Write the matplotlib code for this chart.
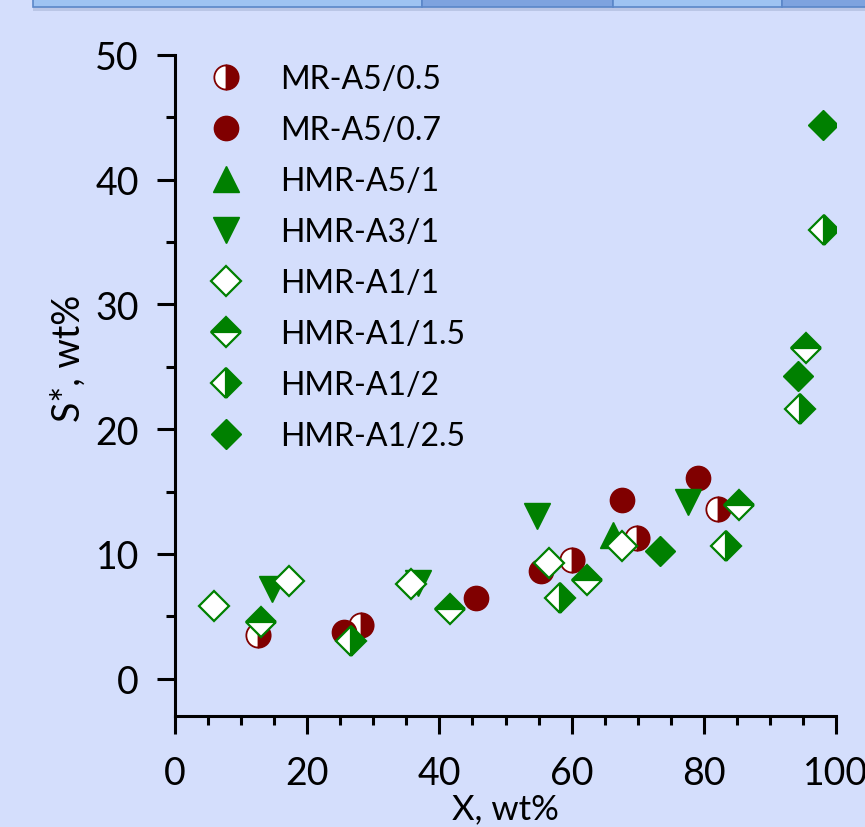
import matplotlib
matplotlib.use("Agg")
import matplotlib.pyplot as plt
from matplotlib.patches import Rectangle
from matplotlib.ticker import MultipleLocator

plt.rcParams['font.family'] = ['Lato', 'DejaVu Sans']

# ---- data ----
mr05_x = [12.6, 28.1, 60.0, 69.9, 82.2]
mr05_y = [3.5, 4.3, 9.5, 11.3, 13.6]
mr07_x = [25.6, 45.5, 55.4, 67.7, 79.1]
mr07_y = [3.7, 6.5, 8.6, 14.35, 16.1]
hmr_a5_1_x = [66.2]
hmr_a5_1_y = [11.55]
hmr_a3_1_x = [14.6, 36.8, 54.8, 77.6]
hmr_a3_1_y = [7.2, 7.7, 13.0, 14.15]
hmr_a1_1_x = [5.95, 17.3, 35.7, 56.6, 67.7]
hmr_a1_1_y = [5.85, 7.86, 7.55, 9.27, 10.6]
hmr_a1_15_x = [13.0, 41.6, 62.4, 85.4, 95.5]
hmr_a1_15_y = [4.5, 5.55, 7.9, 13.9, 26.5]
hmr_a1_2_x = [26.7, 58.2, 83.3, 94.6, 98.2]
hmr_a1_2_y = [3.0, 6.5, 10.6, 21.65, 36.0]
hmr_a1_25_x = [73.3, 94.2, 98.0]
hmr_a1_25_y = [10.2, 24.3, 44.4]

x_ticks = [0, 20, 40, 60, 80, 100]
y_ticks = [0, 10, 20, 30, 40, 50]

RED = '#800000'
GREEN = '#008000'
BG = '#D4DEFC'

W, H = 865, 828
fig = plt.figure(figsize=(W / 100, H / 100), dpi=100, facecolor=BG)

# top strip (table-like band)
cells = [(33, 422, '#9EC3F2'), (422, 613, '#7EA3DF'), (613, 782, '#9EC3F2'), (782, 870, '#7EA3DF')]
for x0, x1, c in cells:
    fig.patches.append(Rectangle((x0 / W, 1 - 12 / H), (x1 - x0) / W, 12 / H,
                                 transform=fig.transFigure, facecolor='#A9B6D8', edgecolor='none', alpha=0.6, zorder=0))
    fig.patches.append(Rectangle((x0 / W, 1 - 8 / H), (x1 - x0) / W, 12 / H,
                                 transform=fig.transFigure, facecolor=c, edgecolor='#5B87C9', linewidth=1.2, zorder=1))

ax = fig.add_axes([175 / W, 1 - 717 / H, (836 - 175) / W, (717 - 56) / H])
ax.set_facecolor(BG)

ms_c = 17.5
ms_d = 15
ms_t = 19
common = dict(linestyle='none')
ax.plot(mr05_x, mr05_y, marker='o', ms=ms_c, fillstyle='right', markerfacecolor=RED,
        markerfacecoloralt='white', markeredgecolor=RED, mew=1.3, label='MR-A5/0.5', **common)
ax.plot(mr07_x, mr07_y, marker='o', ms=ms_c, color=RED, mec=RED, mew=1.0, label='MR-A5/0.7', **common)
ax.plot(hmr_a5_1_x, hmr_a5_1_y, marker='^', ms=ms_t, color=GREEN, mec=GREEN, mew=1.0, label='HMR-A5/1', **common)
ax.plot(hmr_a3_1_x, hmr_a3_1_y, marker='v', ms=ms_t, color=GREEN, mec=GREEN, mew=1.0, label='HMR-A3/1', **common)
ax.plot(hmr_a1_1_x, hmr_a1_1_y, marker='D', ms=ms_d, markerfacecolor='white', markeredgecolor=GREEN,
        mew=1.6, label='HMR-A1/1', **common)
ax.plot(hmr_a1_15_x, hmr_a1_15_y, marker='D', ms=ms_d, fillstyle='top', markerfacecolor=GREEN,
        markerfacecoloralt='white', markeredgecolor=GREEN, mew=1.6, label='HMR-A1/1.5', **common)
ax.plot(hmr_a1_2_x, hmr_a1_2_y, marker='D', ms=ms_d, fillstyle='right', markerfacecolor=GREEN,
        markerfacecoloralt='white', markeredgecolor=GREEN, mew=1.6, label='HMR-A1/2', **common)
ax.plot(hmr_a1_25_x, hmr_a1_25_y, marker='D', ms=ms_d, color=GREEN, mec=GREEN, mew=1.0,
        label='HMR-A1/2.5', **common)

ax.set_xlim(0, 100)
ax.set_ylim(-3, 50)
ax.spines['top'].set_visible(False)
ax.spines['right'].set_visible(False)
for s in ('left', 'bottom'):
    ax.spines[s].set_linewidth(2.2)

ax.set_xticks(x_ticks)
ax.set_yticks(y_ticks)
ax.xaxis.set_minor_locator(MultipleLocator(5))
ax.yaxis.set_minor_locator(MultipleLocator(5))
ax.tick_params(which='major', direction='out', length=13, width=2.2, labelsize=27, colors='black')
ax.tick_params(which='minor', direction='out', length=6.5, width=2.2)
ax.tick_params(axis='x', which='major', pad=15)
ax.tick_params(axis='y', which='major', pad=13)

ax.set_xlabel('X, wt%', fontsize=25)
ax.set_ylabel('S*, wt%', fontsize=27)
ax.xaxis.set_label_coords(0.5, (717 - 793) / 661)
ax.yaxis.set_label_coords((87 - 175) / 661, (717 - 358) / 661)

leg = ax.legend(loc='upper left', bbox_to_anchor=(197 / W, 1 - 52 / H), bbox_transform=fig.transFigure,
                frameon=False, fontsize=23, handlelength=1.0, handletextpad=1.19,
                labelspacing=0.66, borderaxespad=0, borderpad=0.4)

fig.savefig('out.png', dpi=100, facecolor=BG)
